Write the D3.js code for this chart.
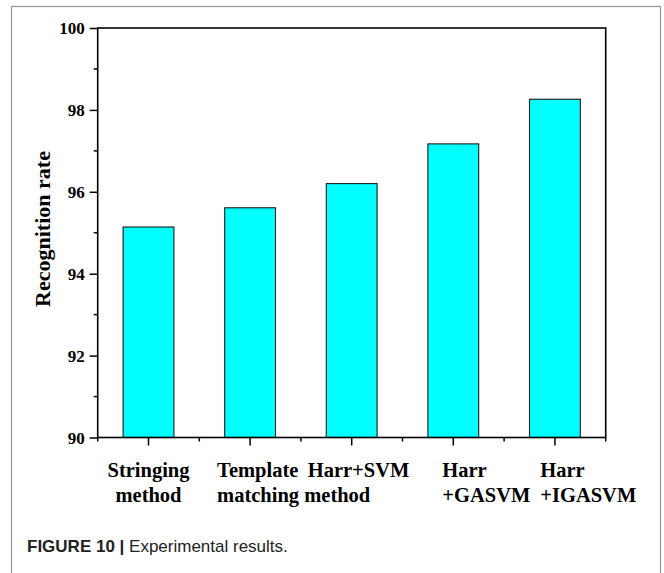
<!DOCTYPE html>
<html><head><meta charset="utf-8">
<script src="https://cdn.jsdelivr.net/npm/d3@7"></script>
<style>
html,body{margin:0;padding:0;background:#fff;}
svg{display:block;}
</style></head>
<body>
<script>
const categories = ["Stringing method","Template matching method","Harr+SVM","Harr +GASVM","Harr +IGASVM"];
const values = [95.14, 95.61, 96.20, 97.17, 98.26];
const labelLines = [["Stringing","method"],["Template","matching method"],["Harr+SVM"],["Harr","+GASVM"],["Harr","+IGASVM"]];
const yTicks = [90, 92, 94, 96, 98, 100];
const yMinorTicks = [91, 93, 95, 97, 99];
const yTitle = "Recognition rate";
const caption = ["FIGURE 10", "Experimental results."];

const W = 664, H = 573;
const svg = d3.select("body").append("svg").attr("width", W).attr("height", H);

// outer frame
svg.append("rect").attr("x", 11.5).attr("y", 6.5).attr("width", 649).attr("height", 620)
  .attr("fill", "none").attr("stroke", "#9a9a9a").attr("stroke-width", 1.3);

const L = 97.7, R = 605.7, T = 28, B = 437.5;
const x = d3.scaleBand().domain(categories).range([L, R]).paddingInner(0.5).paddingOuter(0.25);
const y = d3.scaleLinear().domain([90, 100]).range([B, T]);

const serif = "'Liberation Serif','Times New Roman',serif";

// bars
svg.append("g").selectAll("rect").data(values).join("rect")
  .attr("x", (d, i) => x(categories[i]))
  .attr("y", d => y(d))
  .attr("width", x.bandwidth())
  .attr("height", d => y(90) - y(d))
  .attr("fill", "#00ffff").attr("stroke", "#1a1a1a").attr("stroke-width", 1.1);

// plot frame
svg.append("rect").attr("x", L).attr("y", T).attr("width", R - L).attr("height", B - T)
  .attr("fill", "none").attr("stroke", "#000").attr("stroke-width", 1.6);

// y axis
const yAxis = svg.append("g").attr("transform", `translate(${L},0)`)
  .call(d3.axisLeft(y).tickValues(yTicks).tickSize(8).tickPadding(5).tickFormat(d3.format("d")));
yAxis.select(".domain").remove();
yAxis.selectAll("line").attr("stroke", "#000").attr("stroke-width", 1.5);
yAxis.selectAll("text").attr("font-family", serif).attr("font-weight", "bold")
  .attr("font-size", "17px").attr("fill", "#000").attr("dy", "0.33em");
svg.append("g").selectAll("line").data(yMinorTicks).join("line")
  .attr("x1", L - 4).attr("x2", L).attr("y1", d => y(d)).attr("y2", d => y(d))
  .attr("stroke", "#000").attr("stroke-width", 1.5);

// x axis major ticks (at bar centers)
svg.append("g").selectAll("line").data(categories).join("line")
  .attr("x1", d => x(d) + x.bandwidth() / 2).attr("x2", d => x(d) + x.bandwidth() / 2)
  .attr("y1", B).attr("y2", B + 8).attr("stroke", "#000").attr("stroke-width", 1.5);
// x minor ticks (at category boundaries)
const step = x.step();
const bounds = d3.range(categories.length + 1).map(i => L + i * step);
svg.append("g").selectAll("line").data(bounds).join("line")
  .attr("x1", d => d).attr("x2", d => d).attr("y1", B).attr("y2", B + 4)
  .attr("stroke", "#000").attr("stroke-width", 1.5);

// category labels (offsets relative to bar centre)
const labelDx = [0, -33, -44, -11, -14.6];
const labelAnchor = ["middle", "start", "start", "start", "start"];
const lab = svg.append("g").attr("font-family", serif).attr("font-weight", "bold")
  .attr("font-size", "20.5px").attr("fill", "#000");
labelLines.forEach((lines, i) => {
  const cx = x(categories[i]) + x.bandwidth() / 2 + labelDx[i];
  const t = lab.append("text").attr("text-anchor", labelAnchor[i]);
  lines.forEach((ln, j) => {
    t.append("tspan").attr("x", cx).attr("y", 476.5 + j * 25.5).text(ln);
  });
});

// y title
svg.append("text")
  .attr("transform", `translate(50,229) rotate(-90)`)
  .attr("text-anchor", "middle").attr("font-family", serif).attr("font-weight", "bold")
  .attr("font-size", "22px").attr("fill", "#000").text(yTitle);

// caption
const cap = svg.append("text").attr("x", 27).attr("y", 552)
  .attr("font-family", "'Liberation Sans',Arial,sans-serif").attr("font-size", "17px").attr("fill", "#222");
cap.append("tspan").attr("font-weight", "bold").text(caption[0] + " | ");
cap.append("tspan").text(caption[1]);
</script>
</body></html>
